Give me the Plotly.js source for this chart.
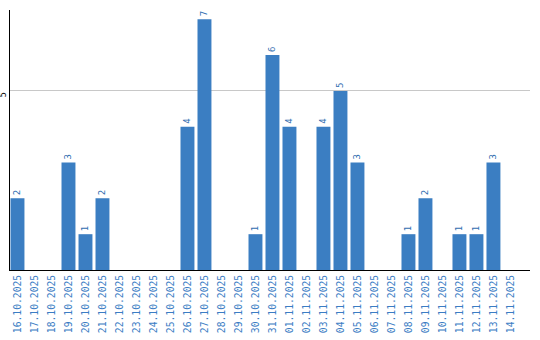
<!DOCTYPE html>
<html><head><meta charset="utf-8">
<script src="https://cdn.plot.ly/plotly-3.0.1.min.js"></script>
<style>html,body{margin:0;padding:0;background:#fff}#c{width:540px;height:340px}</style>
</head><body><div id="c"></div>
<script>
const dates = ["16.10.2025","17.10.2025","18.10.2025","19.10.2025","20.10.2025","21.10.2025","22.10.2025","23.10.2025","24.10.2025","25.10.2025","26.10.2025","27.10.2025","28.10.2025","29.10.2025","30.10.2025","31.10.2025","01.11.2025","02.11.2025","03.11.2025","04.11.2025","05.11.2025","06.11.2025","07.11.2025","08.11.2025","09.11.2025","10.11.2025","11.11.2025","12.11.2025","13.11.2025","14.11.2025"];
const counts = [2,0,0,3,1,2,0,0,0,0,4,7,0,0,1,6,4,0,4,5,3,0,0,1,2,0,1,1,3,0];
const labels = counts.map(v => v > 0 ? String(v) : "");

Plotly.newPlot("c", [{
  type: "bar",
  x: dates,
  y: counts,
  text: labels,
  textposition: "outside",
  textangle: -90,
  cliponaxis: false,
  textfont: {family: "DejaVu Sans Mono", size: 9, color: "#2f6db0"},
  marker: {color: "#3b7ec2"},
  hoverinfo: "none"
}], {
  width: 540, height: 340,
  margin: {l: 10, r: 10, t: 10, b: 70},
  paper_bgcolor: "#fff", plot_bgcolor: "#fff",
  showlegend: false,
  bargap: 0.18,
  xaxis: {
    type: "category",
    range: [-0.44, 30.15],
    tickangle: -90,
    tickfont: {family: "DejaVu Sans Mono", size: 9.7, color: "#3b7dc4"},
    showline: true, linecolor: "#000", linewidth: 1,
    ticks: "", showgrid: false, automargin: false, zeroline: false
  },
  yaxis: {
    range: [0, 7.26],
    tickvals: [5], ticktext: ["5"],
    tickangle: -90,
    ticklabelshift: 5,
    tickfont: {family: "DejaVu Sans", size: 8, color: "#000"},
    showline: true, linecolor: "#000", linewidth: 1,
    showgrid: true, gridcolor: "#c8c8c8", gridwidth: 1,
    ticks: "", zeroline: false, automargin: false
  }
}, {staticPlot: true, displayModeBar: false});
</script>
</body></html>
